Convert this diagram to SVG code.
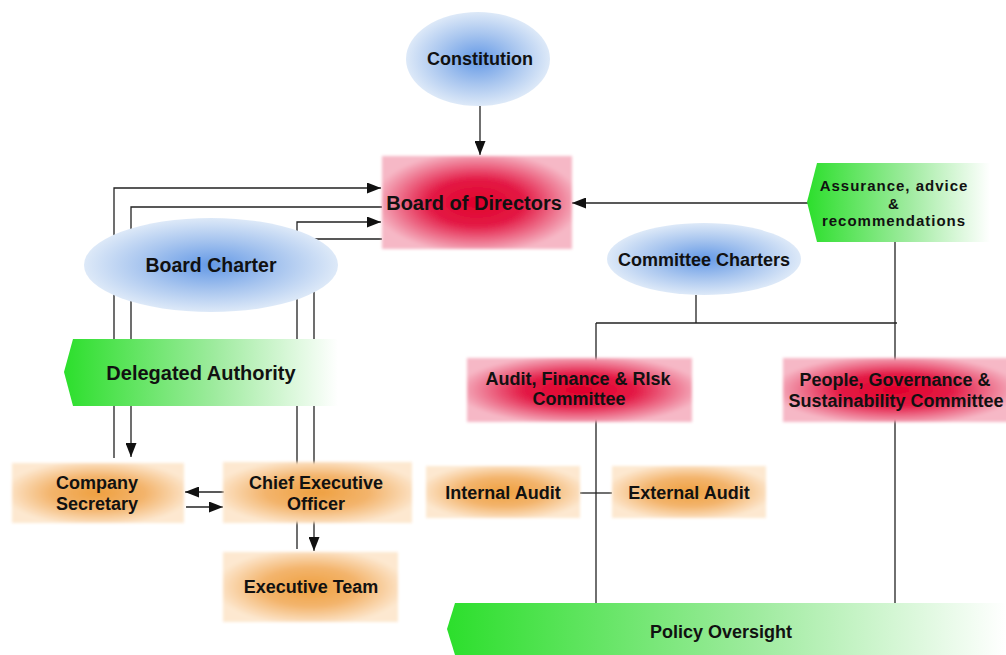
<svg xmlns="http://www.w3.org/2000/svg" width="1006" height="655" viewBox="0 0 1006 655">
<defs>
<style>
.t{font-family:"Liberation Sans",Arial,sans-serif;font-weight:bold;fill:#111;text-anchor:middle;font-size:18px}
.c{fill:none;stroke:#222;stroke-width:1.3}
</style>
<radialGradient id="gBlue" cx="0.5" cy="0.5" r="0.5">
<stop offset="0" stop-color="#6499e6"/>
<stop offset="0.55" stop-color="#a9c6ef"/>
<stop offset="1" stop-color="#dde9f8"/>
</radialGradient>
<radialGradient id="gRed" cx="0.5" cy="0.5" r="0.55">
<stop offset="0" stop-color="#e0002a"/>
<stop offset="0.45" stop-color="#e31a45"/>
<stop offset="1" stop-color="#f6b8c6"/>
</radialGradient>
<radialGradient id="gOrange" cx="0.5" cy="0.5" r="0.55">
<stop offset="0" stop-color="#efa040"/>
<stop offset="0.5" stop-color="#f3b46c"/>
<stop offset="1" stop-color="#fde8d0"/>
</radialGradient>
<linearGradient id="gGreen" x1="0" y1="0" x2="1" y2="0">
<stop offset="0" stop-color="#2cdf2c"/>
<stop offset="0.55" stop-color="#9eeb9e"/>
<stop offset="1" stop-color="#ffffff"/>
</linearGradient>
<filter id="soft" x="-10%" y="-20%" width="120%" height="140%">
<feGaussianBlur stdDeviation="1.8"/>
</filter>
<marker id="arr" markerUnits="userSpaceOnUse" markerWidth="15" markerHeight="11" refX="14" refY="5.5" orient="auto">
<path d="M0,0 L14,5.5 L0,11 z" fill="#111"/>
</marker>
</defs>
<rect width="1006" height="655" fill="#ffffff"/>
<g id="connectors">
<path class="c" d="M480,106 V155" marker-end="url(#arr)"/>
<path class="c" d="M114,458 V188 H381" marker-end="url(#arr)"/>
<path class="c" d="M382,207 H131 V457" marker-end="url(#arr)"/>
<path class="c" d="M297,549 V222 H381" marker-end="url(#arr)"/>
<path class="c" d="M382,239 H314 V551" marker-end="url(#arr)"/>
<path class="c" d="M224,492 H185" marker-end="url(#arr)"/>
<path class="c" d="M186,507 H223" marker-end="url(#arr)"/>
<path class="c" d="M808,203 H572" marker-end="url(#arr)"/>
<path class="c" d="M895,242 V603"/>
<path class="c" d="M696,295 V323"/>
<path class="c" d="M596,323 H897"/>
<path class="c" d="M596,323 V603"/>
<path class="c" d="M580,493 H612"/>
</g>
<g id="constitution">
<ellipse cx="478" cy="59" rx="72" ry="47" fill="url(#gBlue)"/>
<text class="t" x="480" y="65">Constitution</text>
</g>
<g id="board-of-directors">
<rect x="382" y="156" width="190" height="93" fill="url(#gRed)" filter="url(#soft)"/>
<text class="t" x="474" y="210" style="font-size:20px">Board of Directors</text>
</g>
<g id="board-charter">
<ellipse cx="211" cy="265" rx="127" ry="47" fill="url(#gBlue)"/>
<text class="t" x="211" y="272" style="font-size:19.5px">Board Charter</text>
</g>
<g id="committee-charters">
<ellipse cx="704" cy="259" rx="97" ry="36" fill="url(#gBlue)"/>
<text class="t" x="704" y="265.5">Committee Charters</text>
</g>
<g id="assurance">
<polygon points="817,163 990,163 990,242 817,242 807,202" fill="url(#gGreen)"/>
<text class="t" x="894" y="191" style="font-size:15px;letter-spacing:1px">Assurance, advice</text>
<text class="t" x="894" y="209" style="font-size:15px;letter-spacing:1px">&amp;</text>
<text class="t" x="894" y="226" style="font-size:15px;letter-spacing:1px">recommendations</text>
</g>
<g id="delegated-authority">
<polygon points="73,339 338,339 338,406 73,406 64,372" fill="url(#gGreen)"/>
<text class="t" x="201" y="380" style="font-size:20px">Delegated Authority</text>
</g>
<g id="company-secretary">
<rect x="12" y="463" width="172" height="60" fill="url(#gOrange)" filter="url(#soft)"/>
<text class="t" x="97" y="489">Company</text>
<text class="t" x="97" y="510">Secretary</text>
</g>
<g id="ceo">
<rect x="223" y="462" width="189" height="61" fill="url(#gOrange)" filter="url(#soft)"/>
<text class="t" x="316" y="489">Chief Executive</text>
<text class="t" x="316" y="510">Officer</text>
</g>
<g id="executive-team">
<rect x="223" y="552" width="175" height="70" fill="url(#gOrange)" filter="url(#soft)"/>
<text class="t" x="311" y="593">Executive Team</text>
</g>
<g id="audit-committee">
<rect x="467" y="358" width="225" height="64" fill="url(#gRed)" filter="url(#soft)"/>
<text class="t" x="578" y="385">Audit, Finance &amp; RIsk</text>
<text class="t" x="579" y="405">Committee</text>
</g>
<g id="people-committee">
<rect x="783" y="358" width="226" height="64" fill="url(#gRed)" filter="url(#soft)"/>
<text class="t" x="895" y="386">People, Governance &amp;</text>
<text class="t" x="896" y="407">Sustainability Committee</text>
</g>
<g id="internal-audit">
<rect x="426" y="466" width="154" height="52" fill="url(#gOrange)" filter="url(#soft)"/>
<text class="t" x="503" y="499">Internal Audit</text>
</g>
<g id="external-audit">
<rect x="612" y="466" width="154" height="52" fill="url(#gOrange)" filter="url(#soft)"/>
<text class="t" x="689" y="499">External Audit</text>
</g>
<g id="policy-oversight">
<polygon points="455,603 1006,603 1006,655 455,655 447,629" fill="url(#gGreen)"/>
<text class="t" x="721" y="638">Policy Oversight</text>
</g>
</svg>
